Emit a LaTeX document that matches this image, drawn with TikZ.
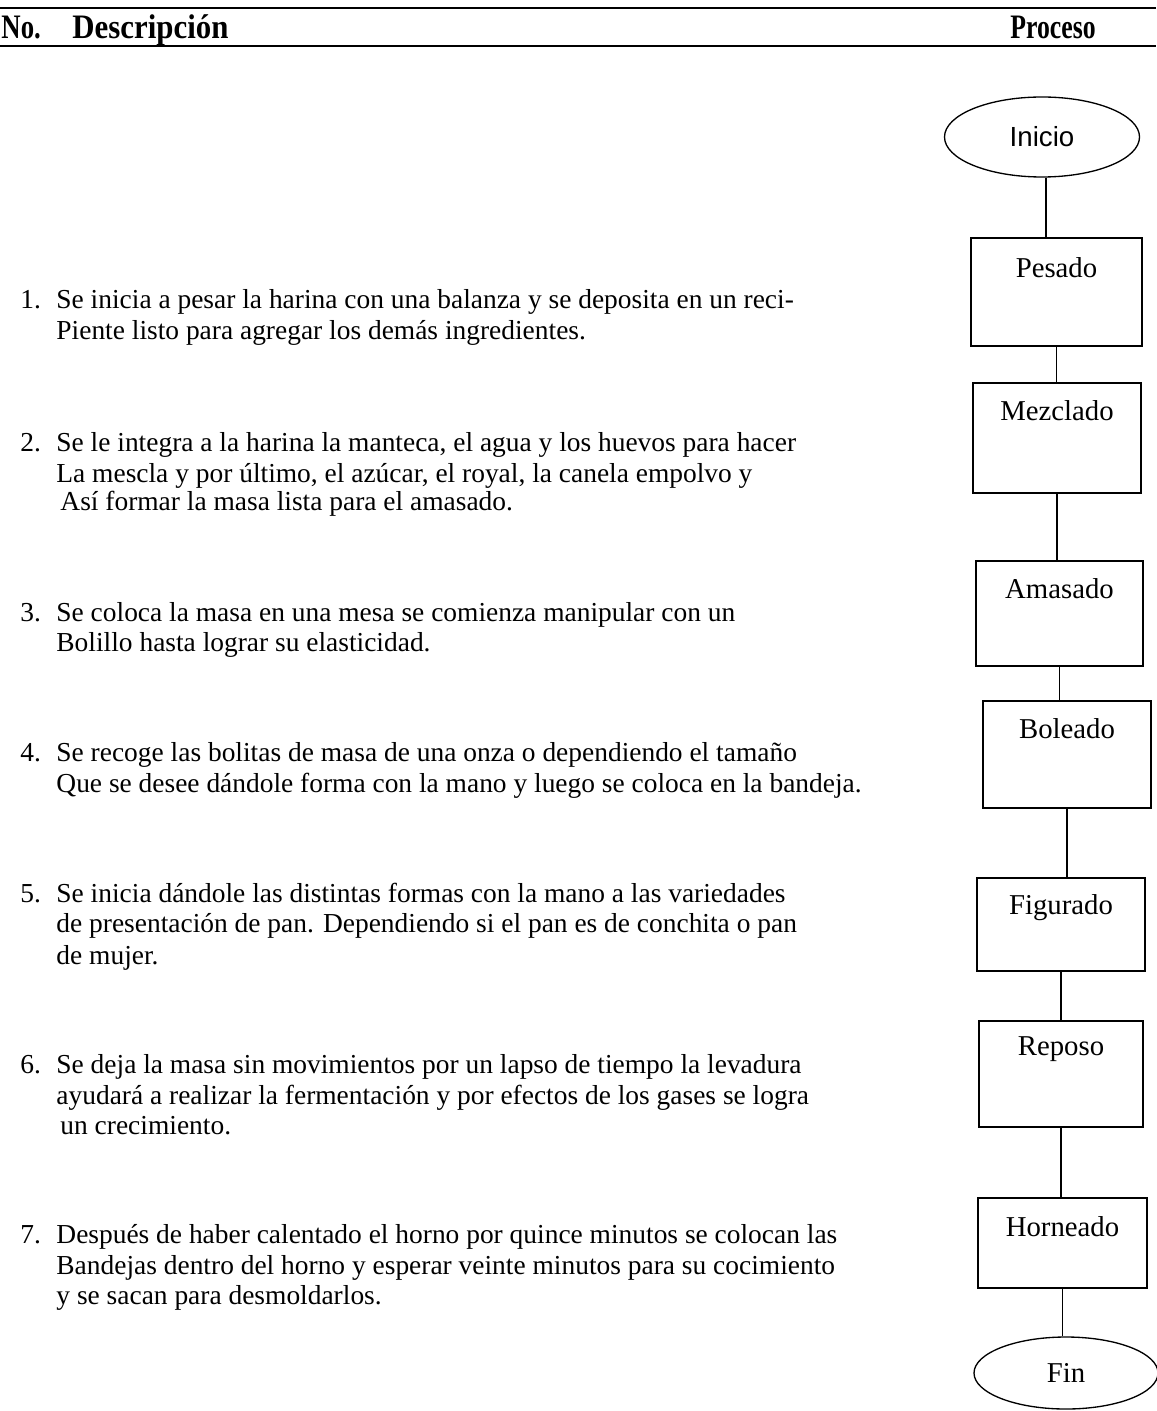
\documentclass[tikz,border=0pt]{standalone}
\usepackage{graphicx}
\usepackage{fontspec}
\setmainfont{Liberation Serif}
\newfontfamily\arialfont{Liberation Sans}
\usetikzlibrary{shapes.geometric}
\tikzset{
  body/.style={anchor=base west, inner sep=0pt, font=\fontsize{12.4}{14}\selectfont},
  head/.style={anchor=base west, inner sep=0pt, font=\fontsize{15.5}{18}\selectfont\bfseries},
  stepbox/.style={draw, line width=0.6pt, inner sep=0pt},
  term/.style={draw, ellipse, line width=0.6pt, inner sep=0pt},
  boxlabel/.style={inner sep=0pt, font=\fontsize{13}{15}\selectfont},
  conn/.style={line width=0.6pt},
  rule/.style={line width=1pt}
}
\newcommand\pxl[1]{#1*0.452pt}
\begin{document}
\begin{tikzpicture}[x=0.452pt, y=-0.452pt]
\useasboundingbox (0,0) rectangle (1156,1411);
% header
\coordinate (r1a) at (0,8); \coordinate (r1b) at (1156,8);
\coordinate (r2a) at (0,46); \coordinate (r2b) at (1156,46);
\draw[rule] (r1a) -- (r1b);
\draw[rule] (r2a) -- (r2b);
\node[head] (hno) at (1,39) {\scalebox{0.78}[1]{No.}};
\node[head] (hdesc) at (72,39) {\scalebox{0.9}[1]{Descripción}};
\node[head] (hproc) at (1010,39) {\scalebox{0.75}[1]{Proceso}};

% descriptions
\node[body] (n1) at (20,309) {1.};
\node[body] (t1a) at (56,309) {Se inicia a pesar la harina con una balanza y se deposita en un reci-};
\node[body] (t1b) at (56,340) {Piente listo para agregar los demás ingredientes.};

\node[body] (n2) at (20,451) {2.};
\node[body] (t2a) at (56,451) {Se le integra a la harina la manteca, el agua y los huevos para hacer};
\node[body] (t2b) at (56,482) {La mescla y por último, el azúcar, el royal, la canela empolvo y};
\node[body] (t2c) at (60,510) {Así formar la masa lista para el amasado.};

\node[body] (n3) at (20,621) {3.};
\node[body] (t3a) at (56,621) {Se coloca la masa en una mesa se comienza manipular con un};
\node[body] (t3b) at (56,651) {Bolillo hasta lograr su elasticidad.};

\node[body] (n4) at (20,761) {4.};
\node[body] (t4a) at (56,761) {Se recoge las bolitas de masa de una onza o dependiendo el tamaño};
\node[body] (t4b) at (56,792) {Que se desee dándole forma con la mano y luego se coloca en la bandeja.};

\node[body] (n5) at (20,902) {5.};
\node[body] (t5a) at (56,902) {Se inicia dándole las distintas formas con la mano a las variedades};
\node[body] (t5b) at (56,932) {de presentación de pan. Dependiendo si el pan es de conchita o pan};
\node[body] (t5c) at (56,964) {de mujer.};

\node[body] (n6) at (20,1073) {6.};
\node[body] (t6a) at (56,1073) {Se deja la masa sin movimientos por un lapso de tiempo la levadura};
\node[body] (t6b) at (56,1104) {ayudará a realizar la fermentación y por efectos de los gases se logra};
\node[body] (t6c) at (60,1134) {un crecimiento.};

\node[body] (n7) at (20,1243) {7.};
\node[body] (t7a) at (56,1243) {Después de haber calentado el horno por quince minutos se colocan las};
\node[body] (t7b) at (56,1274) {Bandejas dentro del horno y esperar veinte minutos para su cocimiento};
\node[body] (t7c) at (56,1304) {y se sacan para desmoldarlos.};

% flowchart
\node[term, minimum width=\pxl{195}, minimum height=\pxl{80}, font=\arialfont\fontsize{12.5}{14}\selectfont] (ini) at (1042,137) {Inicio};
\node[stepbox, minimum width=\pxl{171}, minimum height=\pxl{108}] (pes) at (1056.5,292) {};
\node[stepbox, minimum width=\pxl{168}, minimum height=\pxl{110}] (mez) at (1057,438) {};
\node[stepbox, minimum width=\pxl{167}, minimum height=\pxl{105}] (ama) at (1059.5,613.5) {};
\node[stepbox, minimum width=\pxl{168}, minimum height=\pxl{107}] (bol) at (1067,754.5) {};
\node[stepbox, minimum width=\pxl{168}, minimum height=\pxl{93}] (fig) at (1061,924.5) {};
\node[stepbox, minimum width=\pxl{164}, minimum height=\pxl{106}] (rep) at (1061,1074) {};
\node[stepbox, minimum width=\pxl{169}, minimum height=\pxl{90}] (hor) at (1062.5,1243) {};
\node[term, minimum width=\pxl{184}, minimum height=\pxl{72}, font=\fontsize{13}{15}\selectfont] (fin) at (1066,1373) {Fin};

\node[boxlabel, anchor=center] (lpes) at ([yshift=\pxl{-30}]pes.north) {Pesado};
\node[boxlabel, anchor=center] (lmez) at ([yshift=\pxl{-28}]mez.north) {Mezclado};
\node[boxlabel, anchor=center] (lama) at ([yshift=\pxl{-28}]ama.north) {Amasado};
\node[boxlabel, anchor=center] (lbol) at ([yshift=\pxl{-28}]bol.north) {Boleado};
\node[boxlabel, anchor=center] (lfig) at ([yshift=\pxl{-30}]fig.north) {Figurado};
\node[boxlabel, anchor=center] (lrep) at ([yshift=\pxl{-29}]rep.north) {Reposo};
\node[boxlabel, anchor=center] (lhor) at ([yshift=\pxl{-29}]hor.north) {Horneado};

\draw[conn] ([xshift=\pxl{4}]ini.south) -- ([xshift=\pxl{4}]ini.south |- pes.north);
\draw[conn] (pes.south) -- (pes.south |- mez.north);
\draw[conn] (mez.south) -- (mez.south |- ama.north);
\draw[conn] (ama.south) -- (ama.south |- bol.north);
\draw[conn] (bol.south) -- (bol.south |- fig.north);
\draw[conn] (fig.south) -- (fig.south |- rep.north);
\draw[conn] (rep.south) -- (rep.south |- hor.north);
\draw[conn] (hor.south) -- (hor.south |- fin.north);
\end{tikzpicture}
\end{document}
